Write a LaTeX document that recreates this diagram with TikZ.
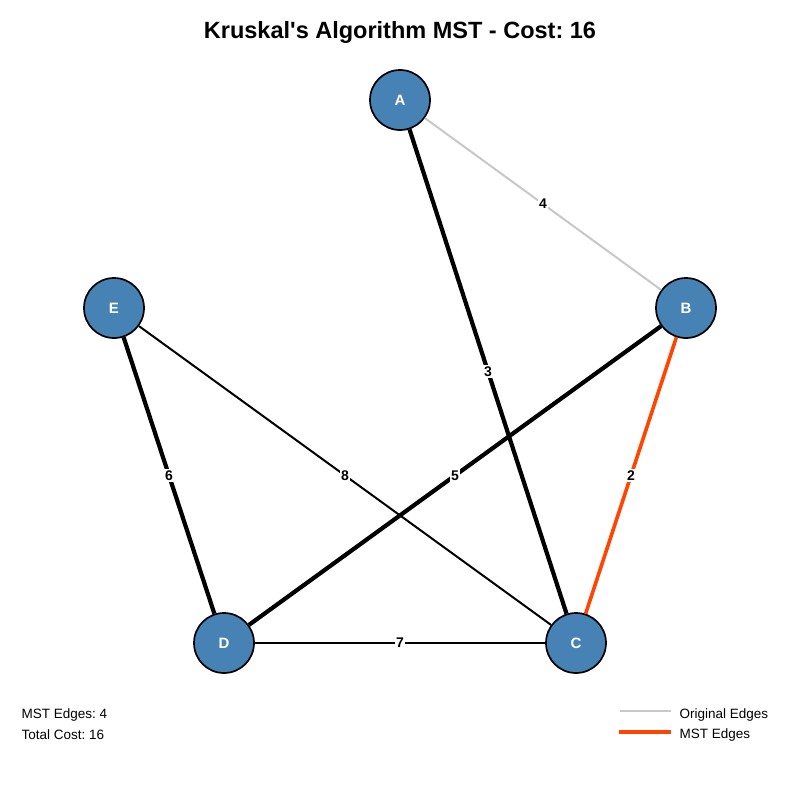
\documentclass[tikz,border=0pt]{standalone}
\usepackage{fontspec}
\setmainfont{Liberation Sans}
\usepackage{tikz}
\frenchspacing
\definecolor{nodeblue}{RGB}{70,130,180}
\definecolor{mstred}{RGB}{255,69,0}
\definecolor{origgray}{RGB}{200,200,200}
\tikzset{
  vertex/.style={circle,draw=black,line width=1.7pt,fill=nodeblue,minimum size=60pt,inner sep=0pt,
    text=white,font=\fontsize{15}{17}\selectfont\bfseries},
  wlabel/.style={midway,fill=white,inner sep=1.5pt,font=\fontsize{14}{16}\selectfont\bfseries},
  mstedge/.style={line width=4.2pt},
  thinedge/.style={line width=2pt}
}

\begin{document}
\begin{tikzpicture}[x=1pt,y=-1pt]
\useasboundingbox (0,0) rectangle (800,800);
\foreach \p/\x/\y in {A/400/100,B/686/308,C/576/643,D/224/643,E/114/308}
  \node[vertex] (\p) at (\x,\y) {\p};
\draw[thinedge,origgray] (A)--(B) node[wlabel,text=black] {4};
\draw[mstedge] (A)--(C) node[wlabel] {3};
\draw[line width=3.6pt,mstred] (B)--(C) node[wlabel,text=black] {2};
\draw[mstedge] (B)--(D) node[wlabel] {5};
\draw[mstedge] (E)--(D) node[wlabel] {6};
\draw[thinedge] (E)--(C) node[wlabel] {8};
\draw[thinedge] (D)--(C) node[wlabel] {7};
% title and notes
\node[font=\fontsize{23.5}{27}\selectfont\bfseries] (title) at (400,32) {Kruskal\textquotesingle s Algorithm MST - Cost: 16};
\node[anchor=west,font=\fontsize{13.5}{15}\selectfont] (count) at (18,715) {MST Edges: 4};
\node[anchor=west,font=\fontsize{13.5}{15}\selectfont] (cost) at (18,735) {Total Cost: 16};
% legend
\coordinate (g1) at (620,711); \coordinate (g2) at (671,711);
\coordinate (m1) at (619,732); \coordinate (m2) at (671,732);
\draw[line width=2pt,origgray] (g1)--(g2);
\draw[line width=4pt,mstred] (m1)--(m2);
\node[anchor=west,font=\fontsize{13.5}{15}\selectfont] (lorig) at (676,715) {Original Edges};
\node[anchor=west,font=\fontsize{13.5}{15}\selectfont] (lmst) at (676,735) {MST Edges};
\end{tikzpicture}
\end{document}
